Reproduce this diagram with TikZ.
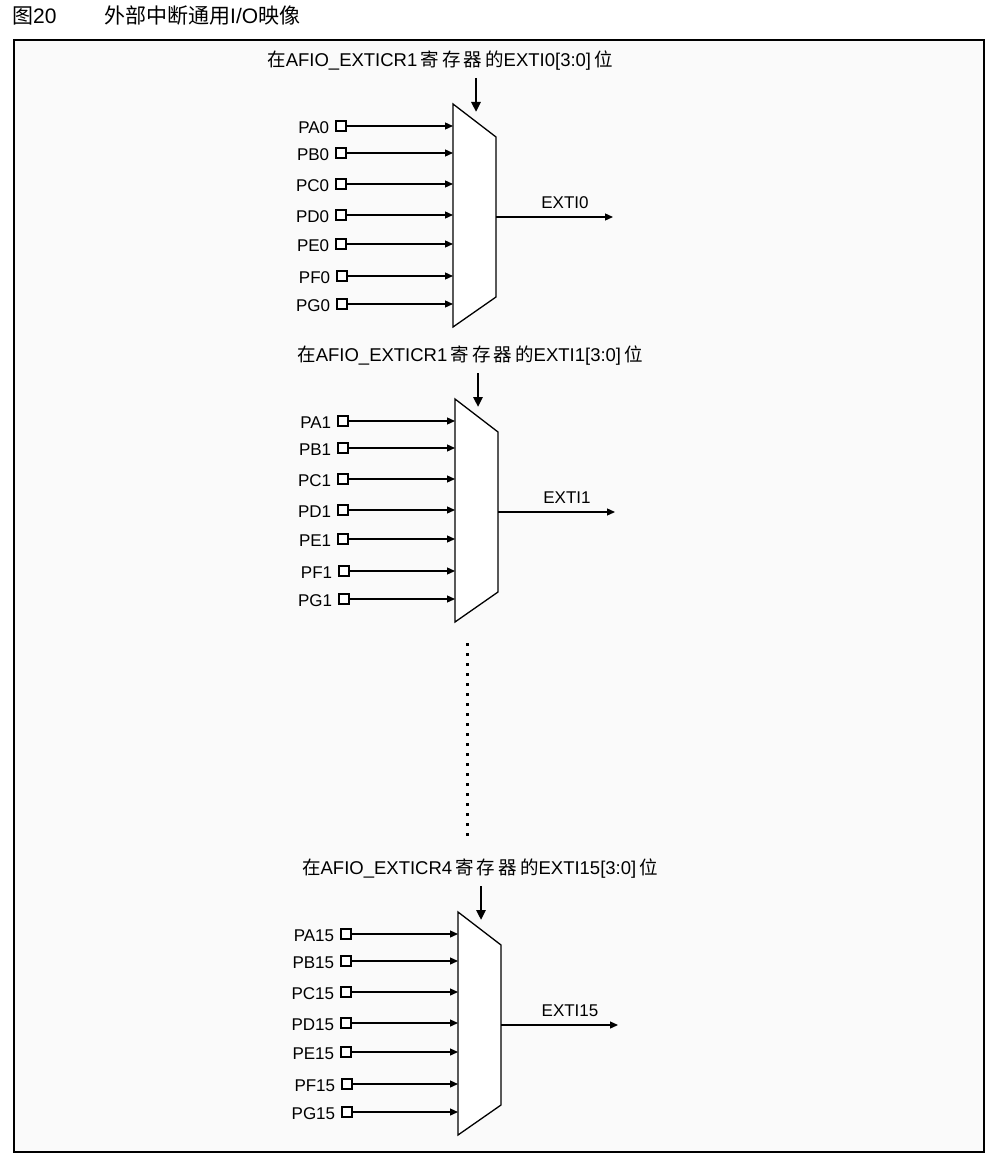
\documentclass[tikz,border=0pt]{standalone}
\usepackage{fontspec}
\setmainfont{Liberation Sans}
\newfontfamily\cjk{Noto Sans CJK SC}
\usetikzlibrary{arrows.meta}
\tikzset{
 pin/.style={draw,line width=1.3pt,fill=white,minimum size=10pt,inner sep=0pt},
 lab/.style={font=\fontsize{17}{19}\selectfont,inner sep=1pt},
 sig/.style={-{Triangle[length=8pt,width=7pt]},line width=1.3pt},
 ctl/.style={-{Triangle[length=10pt,width=9pt]},line width=2.6pt},
 mux/.style={draw,line width=1.3pt,fill=white},
}
\newcommand{\muxblock}[7]{% #1 id, #2 dx, #3 top y, #4 title, #5 out label, #6 digit, #7 title x
 \begin{scope}[xshift=#2pt]
 \node[lab,font=\fontsize{18.5}{20}\selectfont] (t#1) at (#7,#3-43) {#4};
 \draw[mux] (453,#3) coordinate (tl#1) -- (496,#3+33) -- (496,#3+193) -- (453,#3+223) -- cycle;
 \coordinate (ctl#1) at (476,#3+8);
 \draw[ctl] (476,#3-26) coordinate (cs#1) -- (ctl#1);
 \coordinate (o#1) at (496,#3+113);
 \coordinate (oe#1) at (613,#3+113);
 \draw[sig] (o#1) -- (oe#1);
 \node[lab,anchor=south] (ol#1) at (565,#3+106) {#5};
 \foreach \p/\yy/\xx in {A/22/0,B/49/0,C/80/0,D/111/0,E/140/0,F/172/1,G/200/1}{
   \node[pin] (p#1\p) at (341+\xx,#3+\yy) {};
   \node[lab,anchor=east] (l#1\p) at ([xshift=-5pt,yshift=-2pt]p#1\p.west) {P\p#6};
   \coordinate (i#1\p) at (453,#3+\yy);
   \draw[sig] (p#1\p.east) -- (i#1\p);
 }
 \end{scope}
}
\begin{document}
\begin{tikzpicture}[x=1pt,y=-1pt]
\useasboundingbox (0,0) rectangle (996,1158);
\fill[white] (0,0) rectangle (996,1158);
\draw[line width=1.3pt,fill=gray!4] (14,40) rectangle (984,1152);
\node[anchor=west,font=\fontsize{21}{23}\selectfont,inner sep=0] (fig) at (12,16) {{\cjk 图}20};
\node[anchor=west,font=\fontsize{21}{23}\selectfont,inner sep=0] (cap) at (104,16) {{\cjk 外部中断通用}I/O{\cjk 映像}};
\muxblock{a}{0}{104}{{\cjk 在}AFIO\_EXTICR1\,{\cjk 寄\,存\,器\,的}EXTI0[3:0]\,{\cjk 位}}{EXTI0}{0}{440}
\muxblock{b}{2}{399}{{\cjk 在}AFIO\_EXTICR1\,{\cjk 寄\,存\,器\,的}EXTI1[3:0]\,{\cjk 位}}{EXTI1}{1}{468}
\muxblock{c}{5}{912}{{\cjk 在}AFIO\_EXTICR4\,{\cjk 寄\,存\,器\,的}EXTI15[3:0]\,{\cjk 位}}{EXTI15}{15}{475}
\coordinate (d1) at (467,643);
\coordinate (d2) at (467,842);
\draw[line width=3pt,dash pattern=on 3pt off 7pt] (d1) -- (d2);
\end{tikzpicture}
\end{document}
